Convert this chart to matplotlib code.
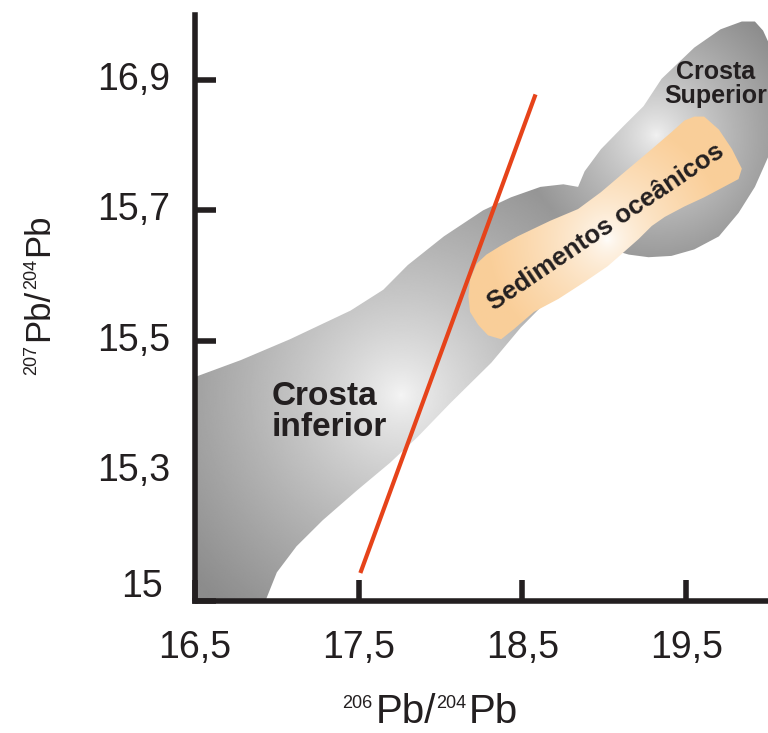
"""
Pb isotope diagram: 207Pb/204Pb vs 206Pb/204Pb with crust fields
(lower crust, upper crust), oceanic sediments and a reference line.
"""
import numpy as np
import matplotlib
matplotlib.use('Agg')
import matplotlib.pyplot as plt
from matplotlib.patches import Polygon
from matplotlib.transforms import ScaledTranslation

plt.rcParams['font.family'] = ['Liberation Sans', 'DejaVu Sans']

INK = '#231f20'

# axes
x_ticks = [16.5, 17.5, 18.5, 19.5]
x_labels = ['16,5', '17,5', '18,5', '19,5']
y_ticks = [0, 1, 2, 3, 4]          # the original axis is equally spaced per label
y_labels = ['15', '15,3', '15,5', '15,7', '16,9']

# axis titles as (text, size pt, raise pt, gap before pt)
x_title = [('206', 13, 11, 0), ('Pb/', 29, 0, 2.5), ('204', 13, 11, 0), ('Pb', 29, 0, 2)]
y_title = [('207', 13, 9, 0), ('Pb/', 25, 0, 2.5), ('204', 13, 9, 0), ('Pb', 25, 0, 2)]

# grey crust field (lower crust + upper crust joined)
crust_x = [16.50, 16.50, 16.78, 17.08, 17.45, 17.65, 17.80, 18.02, 18.26, 18.43,
           18.61, 18.75, 18.84, 18.88, 18.98, 19.12, 19.24, 19.35, 19.55, 19.71,
           19.84, 19.92, 19.97, 20.05, 20.05, 19.98, 19.92, 19.82, 19.70, 19.55,
           19.41, 19.27, 19.15, 19.04, 18.86, 18.67, 18.49, 18.31, 18.06, 17.86,
           17.69, 17.49, 17.28, 17.12, 17.00, 16.93]
crust_y = [0.00, 1.72, 1.85, 2.01, 2.23, 2.39, 2.58, 2.80, 3.00, 3.10,
           3.18, 3.20, 3.18, 3.30, 3.47, 3.65, 3.80, 4.01, 4.25, 4.39,
           4.45, 4.45, 4.38, 4.16, 3.55, 3.35, 3.18, 2.98, 2.80, 2.70,
           2.65, 2.64, 2.66, 2.70, 2.51, 2.33, 2.10, 1.83, 1.52, 1.26,
           1.06, 0.85, 0.62, 0.42, 0.22, 0.00]
# light centres of the grey field: lower crust, upper crust
glow_x = [17.76, 19.32]
glow_y = [1.58, 3.58]
glow_r = [300, 150]                # falloff radius, px

# oceanic sediments field
sed_x = [18.17, 18.18, 18.22, 18.28, 18.37, 18.47, 18.67, 18.84, 18.98, 19.12,
         19.29, 19.41, 19.49, 19.55, 19.61, 19.70, 19.78, 19.84, 19.82, 19.73,
         19.61, 19.49, 19.37, 19.29, 19.21, 19.12, 19.02, 18.88, 18.72, 18.57,
         18.45, 18.37, 18.29, 18.23, 18.18]
sed_y = [2.34, 2.47, 2.59, 2.66, 2.73, 2.80, 2.92, 3.01, 3.14, 3.29,
         3.47, 3.60, 3.69, 3.72, 3.72, 3.62, 3.47, 3.32, 3.24, 3.18,
         3.10, 3.03, 2.95, 2.88, 2.78, 2.68, 2.57, 2.45, 2.32, 2.22,
         2.09, 2.01, 2.04, 2.12, 2.22]
sed_glow = (19.02, 2.78)

# reference line
line_x = [17.51, 18.58]
line_y = [0.215, 3.89]

fig = plt.figure(figsize=(7.68, 7.33), dpi=100)
ax = fig.add_axes([195 / 768, 132 / 733, 573 / 768, 586 / 733])
xmin, xmax, ymin, ymax = 16.5, 20.0, 0, 4.5
ax.set_xlim(xmin, xmax)
ax.set_ylim(ymin, ymax)

# pixel size of one data unit, for round gradients
p0 = ax.transData.transform((0, 0))
sx = ax.transData.transform((1, 0))[0] - p0[0]
sy = ax.transData.transform((0, 1))[1] - p0[1]

X, Y = np.meshgrid(np.linspace(xmin, xmax, 700), np.linspace(ymin, ymax, 900))


def dist(cx, cy):
    return np.hypot((X - cx) * sx, (Y - cy) * sy)


b_low = 0.96 - 0.44 * np.clip(dist(glow_x[0], glow_y[0]) / glow_r[0], 0, 1) ** 0.8
b_up = 0.95 - 0.40 * np.clip(dist(glow_x[1], glow_y[1]) / glow_r[1], 0, 1) ** 0.75
grey = np.maximum(b_low, b_up)

crust = Polygon(np.column_stack([crust_x, crust_y]), closed=True,
                facecolor='none', edgecolor='none')
ax.add_patch(crust)
im = ax.imshow(grey, cmap='gray', vmin=0, vmax=1, origin='lower', aspect='auto',
               extent=(xmin, xmax, ymin, ymax), interpolation='bilinear', zorder=1)
im.set_clip_path(crust)

t = np.clip(dist(*sed_glow) / 120, 0, 1) ** 0.6
peach = np.array([0.98, 0.81, 0.60])
rgb = 1 - t[..., None] * (1 - peach)
sed = Polygon(np.column_stack([sed_x, sed_y]), closed=True,
              facecolor='none', edgecolor='none')
ax.add_patch(sed)
im2 = ax.imshow(rgb, origin='lower', aspect='auto',
                extent=(xmin, xmax, ymin, ymax), interpolation='bilinear', zorder=2)
im2.set_clip_path(sed)

ax.plot(line_x, line_y, color='#e6431a', linewidth=3, solid_capstyle='butt', zorder=3)

ax.text(16.97, 1.45, 'Crosta\ninferior', fontsize=24, fontweight='bold',
        color=INK, ha='left', va='center', linespacing=1.0, zorder=4)
ax.text(19.68, 3.97, 'Crosta\nSuperior', fontsize=18, fontweight='bold',
        color=INK, ha='center', va='center', multialignment='center',
        linespacing=1.0, zorder=4)
ax.text(19.01, 2.87, 'Sedimentos oceânicos', fontsize=18.5, fontweight='bold',
        color=INK, rotation=34, rotation_mode='anchor', ha='center', va='center',
        zorder=4)

ax.set_xlim(xmin, xmax)
ax.set_ylim(ymin, ymax)

# axes styling
for side in ['top', 'right']:
    ax.spines[side].set_visible(False)
for side in ['left', 'bottom']:
    ax.spines[side].set_linewidth(4)
    ax.spines[side].set_color(INK)
    ax.spines[side].set_capstyle('projecting')

ax.set_xticks(x_ticks)
ax.set_xticklabels(x_labels)
ax.set_yticks(y_ticks)
ax.set_yticklabels(y_labels)
ax.tick_params(direction='in', length=15, width=4, color=INK,
               labelsize=27, labelcolor=INK)
ax.tick_params(axis='x', pad=21)
ax.tick_params(axis='y', pad=18)
ax.yaxis.get_major_ticks()[1].tick1line.set_visible(False)
for lab in ax.get_yticklabels():
    lab.set_va('center')
lab0 = ax.get_yticklabels()[0]
lab0.set_transform(lab0.get_transform() + ScaledTranslation(-0.07, 0.14, fig.dpi_scale_trans))


def compose_title(parts, x0, y0, vertical=False):
    """Chain text pieces (superscripts and main text) one after another."""
    prev = None
    for text, size, lift, gap in parts:
        if vertical:
            xycoords = 'axes fraction' if prev is None else ('axes fraction', prev)
            xy = (x0, y0) if prev is None else (x0, 1)
            offset = (-lift, gap)
            rot = 90
        else:
            xycoords = 'axes fraction' if prev is None else (prev, 'axes fraction')
            xy = (x0, y0) if prev is None else (1, y0)
            offset = (gap, lift)
            rot = 0
        prev = ax.annotate(text, xy=xy, xycoords=xycoords, xytext=offset,
                           textcoords='offset points', fontsize=size, color=INK,
                           rotation=rot, rotation_mode='anchor',
                           ha='left', va='baseline', annotation_clip=False)


compose_title(x_title, 0.2565, -0.209)
compose_title(y_title, -0.256, 0.386, vertical=True)

fig.savefig('out.png', dpi=100, facecolor='white')
